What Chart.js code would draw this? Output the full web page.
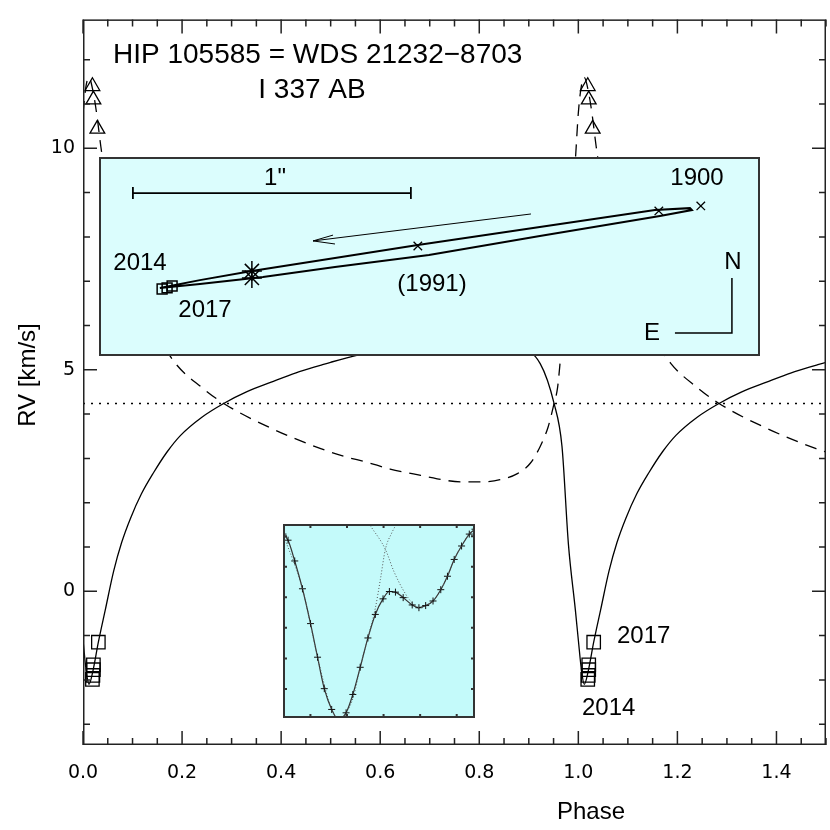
<!DOCTYPE html>
<html>
<head>
<meta charset="utf-8">
<script src="https://cdn.jsdelivr.net/npm/chart.js@4.4.1/dist/chart.umd.min.js"></script>
<style>
  body { margin: 0; background: #fff; }
  #wrap { position: relative; width: 830px; height: 830px; }
  #wrap canvas { position: absolute; }
  #main { left: 0; top: 0; }
  #orbit { left: 99px; top: 157px; background: #dbfdfd; }
  #ccf { left: 283px; top: 524px; background: #c4fafa; }
</style>
</head>
<body>
<div id="wrap">
  <canvas id="main" width="830" height="830"></canvas>
  <canvas id="orbit" width="661" height="199"></canvas>
  <canvas id="ccf" width="192" height="194"></canvas>
</div>
<script>
// ---- main RV plot ----
// component A (solid), one period
const phaseA = [0.000, 0.006, 0.012, 0.020, 0.031, 0.045, 0.062, 0.078, 0.096, 0.118, 0.142, 0.170, 0.197, 0.240, 0.284, 0.330, 0.380, 0.430, 0.479, 0.500, 0.600, 0.700, 0.800, 0.870, 0.923, 0.951, 0.967, 0.980, 0.994];
const rvA    = [-1.10, -1.75, -2.10, -1.80, -1.15, -0.42, 0.46, 1.10, 1.65, 2.20, 2.67, 3.15, 3.52, 3.93, 4.24, 4.50, 4.72, 4.93, 5.10, 5.17, 5.45, 5.62, 5.68, 5.55, 5.14, 4.24, 3.27, 1.06, -0.42];

// component B (dashed), one period
const phaseB = [0.000, 0.006, 0.012, 0.020, 0.028, 0.036, 0.042, 0.060, 0.100, 0.150, 0.187, 0.240, 0.284, 0.380, 0.480, 0.526, 0.574, 0.620, 0.667, 0.715, 0.762, 0.806, 0.842, 0.876, 0.903, 0.923, 0.939, 0.951, 0.958, 0.963, 0.975, 0.985, 0.994];
const rvB    = [10.80, 11.40, 11.60, 11.30, 10.75, 10.04, 9.60, 8.60, 7.10, 5.80, 5.14, 4.60, 4.24, 3.68, 3.22, 3.05, 2.91, 2.76, 2.65, 2.54, 2.47, 2.47, 2.52, 2.65, 2.89, 3.27, 3.71, 4.24, 4.59, 5.14, 6.70, 8.50, 9.74];

// measured velocities
const obsPhaseA = [0.031, 0.021, 0.021, 0.020, 0.019];
const obsRvA    = [-1.15, -1.66, -1.77, -1.90, -1.99];
const obsPhaseB = [0.019, 0.021, 0.029];
const obsRvB    = [11.40, 11.10, 10.44];

const gamma = 4.24;

const xTicks = [0.0, 0.2, 0.4, 0.6, 0.8, 1.0, 1.2, 1.4];
const yTicks = [0, 5, 10];

// ---- orbit inset (arcsec) ----
const orbitX = [0.219, 0.363, 0.550, 0.849, 1.147, 1.586, 2.000, 2.126, 2.133, 2.018, 1.586, 1.187, 0.849, 0.590, 0.363, 0.219];
const orbitY = [0.245, 0.273, 0.306, 0.353, 0.399, 0.464, 0.525, 0.532, 0.525, 0.504, 0.432, 0.363, 0.320, 0.284, 0.259, 0.245];
const sqX = [0.227, 0.245, 0.263];
const sqY = [0.241, 0.245, 0.252];
const starX = [0.550, 0.550];
const starY = [0.306, 0.281];
const crossX = [1.147, 2.014, 2.165];
const crossY = [0.396, 0.522, 0.540];

// ---- line-profile inset ----
const ccfX = [-7.50, -6.12, -4.29, -2.18, 0.03, 1.95, 3.79, 5.81, 7.60, 9.75, 11.59, 13.61, 15.72, 17.74, 19.85, 21.59, 23.25, 25.36, 27.83, 29.67, 31.51, 33.52, 35.64, 37.47, 39.31, 41.33, 43.44, 45.00];
const ccfY = [5.07, 4.87, 4.19, 3.28, 2.14, 1.04, 0.01, -0.67, -1.00, -0.78, -0.18, 0.71, 1.67, 2.44, 2.95, 3.19, 3.17, 2.99, 2.75, 2.66, 2.73, 2.88, 3.25, 3.69, 4.24, 4.68, 5.07, 5.23];
const comp1X = [-7.50, -2.18, 1.95, 5.81, 7.65, 9.75, 11.77, 13.61, 15.72, 17.74, 19.12, 20.49, 22.20, 24.00];
const comp1Y = [5.07, 3.28, 1.04, -0.67, -0.98, -0.78, -0.25, 0.71, 1.67, 2.64, 3.58, 4.57, 5.10, 5.50];
const comp2X = [16.36, 20.49, 22.78, 25.08, 27.37, 29.67, 31.51, 33.52, 35.64, 37.47, 39.31, 41.33, 43.44, 45.00];
const comp2Y = [5.35, 4.57, 3.86, 3.30, 2.88, 2.66, 2.73, 2.88, 3.25, 3.69, 4.24, 4.68, 5.07, 5.23];

const ccfXTicks = [0, 10, 20, 30, 40];
const ccfYTicks = [0, 1, 2, 3, 4, 5];

const LABEL_FONT = '"Liberation Sans", Arial, sans-serif';

function pts(xs, ys, shift) {
  return xs.map((x, i) => ({ x: x + (shift || 0), y: ys[i] }));
}
function twoCycles(xs, ys) {
  return pts(xs, ys, 0).concat(pts(xs, ys, 1));
}

// frame + inward ticks on all four sides
const frameTicks = {
  id: 'frameTicks',
  afterDatasetsDraw(chart, args, opts) {
    const { ctx, chartArea: a, scales } = chart;
    const x = scales.x, y = scales.y;
    ctx.save();
    ctx.strokeStyle = opts.color || '#222';
    ctx.lineWidth = opts.lineWidth || 1.5;
    const h = ctx.lineWidth / 2;
    ctx.strokeRect(a.left + h, a.top + h, a.width - 2 * h, a.height - 2 * h);
    ctx.beginPath();
    const xt = (list, len) => list.forEach(v => {
      const px = x.getPixelForValue(v);
      ctx.moveTo(px, a.bottom); ctx.lineTo(px, a.bottom - len);
      ctx.moveTo(px, a.top); ctx.lineTo(px, a.top + len);
    });
    const yt = (list, len) => list.forEach(v => {
      const py = y.getPixelForValue(v);
      ctx.moveTo(a.left, py); ctx.lineTo(a.left + len, py);
      ctx.moveTo(a.right, py); ctx.lineTo(a.right - len, py);
    });
    if (opts.xMajor) xt(opts.xMajor, opts.major);
    if (opts.xMinor) xt(opts.xMinor, opts.minor);
    if (opts.yMajor) yt(opts.yMajor, opts.major);
    if (opts.yMinor) yt(opts.yMinor, opts.minor);
    ctx.stroke();
    ctx.restore();
  }
};

const textLayer = {
  id: 'textLayer',
  afterDraw(chart, args, opts) {
    const ctx = chart.ctx;
    (opts.items || []).forEach(t => {
      ctx.save();
      ctx.font = t.font;
      ctx.fillStyle = '#000';
      ctx.textAlign = t.align || 'center';
      ctx.textBaseline = 'middle';
      ctx.translate(t.x, t.y);
      if (t.rot) ctx.rotate(t.rot);
      ctx.fillText(t.text, 0, 0);
      ctx.restore();
    });
  }
};

// minor tick positions
const xMinor = [];
for (let v = 0; v <= 1.5001; v += 0.05) xMinor.push(v);
const yMinor = [];
for (let v = -3; v <= 12; v++) yMinor.push(v);

new Chart(document.getElementById('main'), {
  type: 'scatter',
  data: {
    datasets: [
      {
        data: [{ x: 0, y: gamma }, { x: 1.5, y: gamma }],
        showLine: true, pointRadius: 0, borderColor: '#000', borderWidth: 1.6, borderDash: [2, 6]
      },
      {
        data: twoCycles(phaseB, rvB),
        showLine: true, pointRadius: 0, borderColor: '#000', borderWidth: 1.3, borderDash: [12, 8],
        cubicInterpolationMode: 'monotone'
      },
      {
        data: twoCycles(phaseA, rvA),
        showLine: true, pointRadius: 0, borderColor: '#000', borderWidth: 1.3,
        cubicInterpolationMode: 'monotone'
      },
      {
        data: twoCycles(obsPhaseA, obsRvA),
        showLine: false, pointStyle: 'rect', pointRadius: 9.5,
        pointBackgroundColor: 'rgba(0,0,0,0)', pointBorderColor: '#000', pointBorderWidth: 1.3
      },
      {
        data: twoCycles(obsPhaseB, obsRvB),
        showLine: false, pointStyle: 'triangle', pointRadius: 8.5,
        pointBackgroundColor: 'rgba(0,0,0,0)', pointBorderColor: '#000', pointBorderWidth: 1.3
      }
    ]
  },
  options: {
    responsive: false,
    animation: false,
    layout: { autoPadding: false, padding: { top: 3, right: 4, left: 0, bottom: 0 } },
    scales: {
      x: {
        type: 'linear', min: 0, max: 1.5,
        grid: { display: false, drawTicks: false },
        border: { display: false },
        afterBuildTicks: s => { s.ticks = xTicks.map(v => ({ value: v })); },
        afterFit: s => { s.height = 85; },
        ticks: {
          font: { family: '"DejaVu Sans"', size: 19 }, color: '#000', padding: 17,
          maxRotation: 0, autoSkip: false, callback: v => v.toFixed(1)
        }
      },
      y: {
        type: 'linear', min: -3.47, max: 12.91,
        grid: { display: false, drawTicks: false },
        border: { display: false },
        afterBuildTicks: s => { s.ticks = yTicks.map(v => ({ value: v })); },
        afterFit: s => { s.width = 83; },
        ticks: {
          font: { family: '"DejaVu Sans"', size: 19 }, color: '#000', padding: 8,
          autoSkip: false, callback: v => String(v)
        }
      }
    },
    plugins: {
      legend: { display: false },
      tooltip: { enabled: false },
      frameTicks: {
        color: '#222', lineWidth: 1.5, major: 14, minor: 7,
        xMajor: xTicks, xMinor: xMinor, yMajor: yTicks, yMinor: yMinor
      },
      textLayer: {
        items: [
          { text: 'HIP 105585 = WDS 21232\u22128703', x: 113, y: 55, align: 'left', font: '28px ' + LABEL_FONT },
          { text: 'I 337 AB', x: 312, y: 90, font: '28px ' + LABEL_FONT },
          { text: 'RV [km/s]', x: 28, y: 375, rot: -Math.PI / 2, font: '24px ' + LABEL_FONT },
          { text: 'Phase', x: 591, y: 812, font: '24px ' + LABEL_FONT },
          { text: '2017', x: 617, y: 636, align: 'left', font: '24px ' + LABEL_FONT },
          { text: '2014', x: 582, y: 708, align: 'left', font: '24px ' + LABEL_FONT }
        ]
      }
    }
  },
  plugins: [frameTicks, textLayer]
});

// ---- orbit inset ----
const seg = (xs, ys, w) => ({
  data: pts(xs, ys), showLine: true, pointRadius: 0, borderColor: '#000', borderWidth: w || 1.5, tension: 0
});

new Chart(document.getElementById('orbit'), {
  type: 'scatter',
  data: {
    datasets: [
      seg(orbitX, orbitY, 2),
      seg([0.122, 1.122], [0.586, 0.586], 1.8),
      seg([0.122, 0.122], [0.565, 0.608], 1.8),
      seg([1.122, 1.122], [0.565, 0.608], 1.8),
      seg([1.554, 0.770], [0.511, 0.414], 1),
      seg([0.842, 0.770, 0.849], [0.435, 0.414, 0.403], 1),
      seg([2.277, 2.277, 2.072], [0.281, 0.083, 0.083], 1.5),
      {
        data: pts(sqX, sqY), showLine: false, pointStyle: 'rect', pointRadius: 7,
        pointBackgroundColor: 'rgba(0,0,0,0)', pointBorderColor: '#000', pointBorderWidth: 1.5
      },
      {
        data: pts(starX, starY), showLine: false, pointStyle: 'star', pointRadius: 10,
        pointBorderColor: '#000', pointBorderWidth: 1.5
      },
      {
        data: pts(crossX, crossY), showLine: false, pointStyle: 'crossRot', pointRadius: 6,
        pointBorderColor: '#000', pointBorderWidth: 1.3
      }
    ]
  },
  options: {
    responsive: false,
    animation: false,
    layout: { autoPadding: false, padding: 0 },
    scales: {
      x: { type: 'linear', min: 0, max: 2.378, display: false },
      y: { type: 'linear', min: 0, max: 0.716, display: false }
    },
    plugins: {
      legend: { display: false },
      tooltip: { enabled: false },
      frameTicks: { color: '#333', lineWidth: 2 },
      textLayer: {
        items: [
          { text: '1"', x: 176, y: 21, font: '24px ' + LABEL_FONT },
          { text: '1900', x: 598, y: 21, font: '24px ' + LABEL_FONT },
          { text: '2014', x: 41, y: 106, font: '24px ' + LABEL_FONT },
          { text: '2017', x: 106, y: 153, font: '24px ' + LABEL_FONT },
          { text: '(1991)', x: 333, y: 127, font: '24px ' + LABEL_FONT },
          { text: 'N', x: 634, y: 105, font: '24px ' + LABEL_FONT },
          { text: 'E', x: 553, y: 176, font: '24px ' + LABEL_FONT }
        ]
      }
    }
  },
  plugins: [frameTicks, textLayer]
});

// ---- line-profile inset ----
new Chart(document.getElementById('ccf'), {
  type: 'scatter',
  data: {
    datasets: [
      {
        data: pts(comp1X, comp1Y), showLine: true, pointRadius: 0, borderColor: '#555',
        borderWidth: 1, borderDash: [1, 2], cubicInterpolationMode: 'monotone'
      },
      {
        data: pts(comp2X, comp2Y), showLine: true, pointRadius: 0, borderColor: '#555',
        borderWidth: 1, borderDash: [1, 2], cubicInterpolationMode: 'monotone'
      },
      {
        data: pts(ccfX, ccfY), showLine: true, borderColor: '#333', borderWidth: 1.2,
        pointStyle: 'cross', pointRadius: 3.5, pointBorderColor: '#111', pointBorderWidth: 1,
        cubicInterpolationMode: 'monotone'
      }
    ]
  },
  options: {
    responsive: false,
    animation: false,
    layout: { autoPadding: false, padding: 0 },
    scales: {
      x: { type: 'linear', min: -7.5, max: 45, display: false },
      y: { type: 'linear', min: -0.95, max: 5.4, display: false }
    },
    plugins: {
      legend: { display: false },
      tooltip: { enabled: false },
      frameTicks: {
        color: '#333', lineWidth: 2, major: 4, minor: 0,
        xMajor: ccfXTicks, yMajor: ccfYTicks
      }
    }
  },
  plugins: [frameTicks]
});
</script>
</body>
</html>
